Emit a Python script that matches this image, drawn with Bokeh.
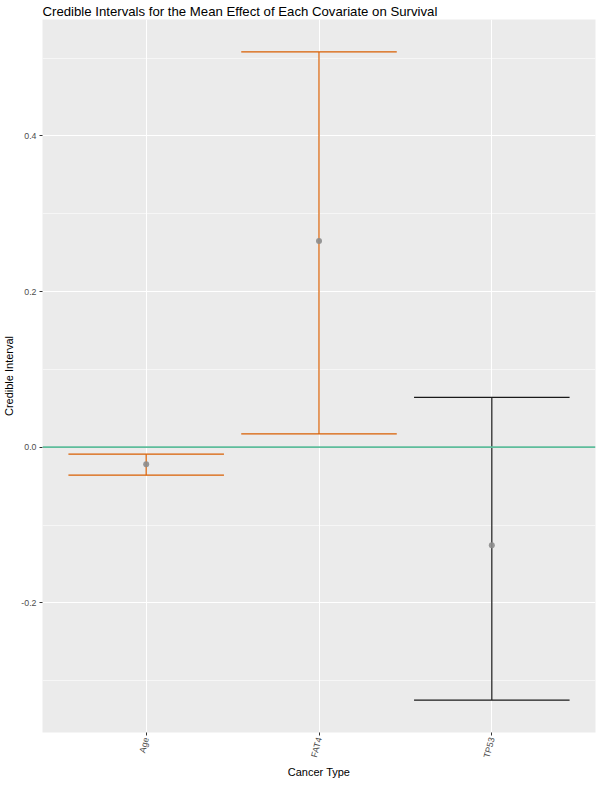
import math
from bokeh.plotting import figure
from bokeh.models import FactorRange, Range1d, FixedTicker, ColumnDataSource, Span
from bokeh.embed import file_html
from bokeh.resources import INLINE

# ---- data ----
covariates = ["Age", "FAT4", "TP53"]
mean_effect = [-0.022, 0.265, -0.126]
lower_ci = [-0.036, 0.017, -0.325]
upper_ci = [-0.009, 0.508, 0.064]
y_major_ticks = [-0.2, 0.0, 0.2, 0.4]
y_minor_ticks = [-0.3, -0.1, 0.1, 0.3, 0.5]
y_tick_labels = ["-0.2", "0.0", "0.2", "0.4"]

ORANGE = "#D95F02"
BLACK = "#1A1A1A"
GREEN = "#5EBD9B"
FONT = "Liberation Sans"

# interval excludes zero -> orange, else black
colors = [ORANGE if (lo > 0 or hi < 0) else BLACK for lo, hi in zip(lower_ci, upper_ci)]

half_w = 0.45
src = ColumnDataSource(dict(
    x=covariates,
    xl=[(c, -half_w) for c in covariates],
    xr=[(c, half_w) for c in covariates],
    mean=mean_effect, lower=lower_ci, upper=upper_ci, color=colors,
))

span_y = max(upper_ci) - min(lower_ci)
y_range = Range1d(min(lower_ci) - 0.05 * span_y, max(upper_ci) + 0.05 * span_y)
x_range = FactorRange(factors=covariates, range_padding=0.2 / 3, range_padding_units="percent")

p = figure(frame_width=553, frame_height=713, x_range=x_range, y_range=y_range,
           output_backend="svg", toolbar_location=None,
           title="Credible Intervals for the Mean Effect of Each Covariate on Survival",
           min_border_right=2, min_border_left=4, min_border_top=0, min_border_bottom=1)

p.background_fill_color = "#EBEBEB"
p.border_fill_color = "white"
p.outline_line_color = None

p.title.text_font = FONT
p.title.text_font_size = "13.2px"
p.title.text_font_style = "normal"
p.title.text_color = "#000000"
p.title.standoff = 2

# grids
p.ygrid.ticker = FixedTicker(ticks=y_major_ticks, minor_ticks=y_minor_ticks)
p.ygrid.grid_line_color = "white"
p.ygrid.grid_line_width = 1.1
p.ygrid.minor_grid_line_color = "white"
p.ygrid.minor_grid_line_width = 0.55
p.xgrid.grid_line_color = "white"
p.xgrid.grid_line_width = 1.1

# axes
p.yaxis.ticker = FixedTicker(ticks=y_major_ticks, minor_ticks=y_minor_ticks)
p.yaxis.major_label_overrides = {t: l for t, l in zip(y_major_ticks, y_tick_labels)}
for ax in (p.xaxis[0], p.yaxis[0]):
    ax.axis_line_color = None
    ax.major_tick_line_color = "#333333"
    ax.major_tick_out = 3
    ax.major_tick_in = 0
    ax.minor_tick_line_color = None
    ax.major_label_text_font = FONT
    ax.major_label_text_font_size = "8.8px"
    ax.major_label_text_color = "#4D4D4D"
    ax.major_label_standoff = 2
    ax.axis_label_text_font = FONT
    ax.axis_label_text_font_size = "11px"
    ax.axis_label_text_font_style = "normal"
    ax.axis_label_text_color = "#000000"
    ax.axis_label_standoff = 3

p.yaxis.axis_label = "Credible Interval"
p.xaxis.axis_label = "Cancer Type"
p.xaxis.major_label_orientation = 1.31

# zero reference line
p.add_layout(Span(location=0, dimension="width", line_color=GREEN, line_width=1.8))

# error bars
p.segment(x0="x", y0="lower", x1="x", y1="upper", source=src, line_color="color", line_width=1.2)
p.segment(x0="xl", y0="lower", x1="xr", y1="lower", source=src, line_color="color", line_width=1.2)
p.segment(x0="xl", y0="upper", x1="xr", y1="upper", source=src, line_color="color", line_width=1.2)

# means
p.scatter(x="x", y="mean", source=src, size=6, fill_color="#8C8C8C", line_color=None, fill_alpha=0.9)

open("out.html", "w").write(file_html(p, INLINE))
